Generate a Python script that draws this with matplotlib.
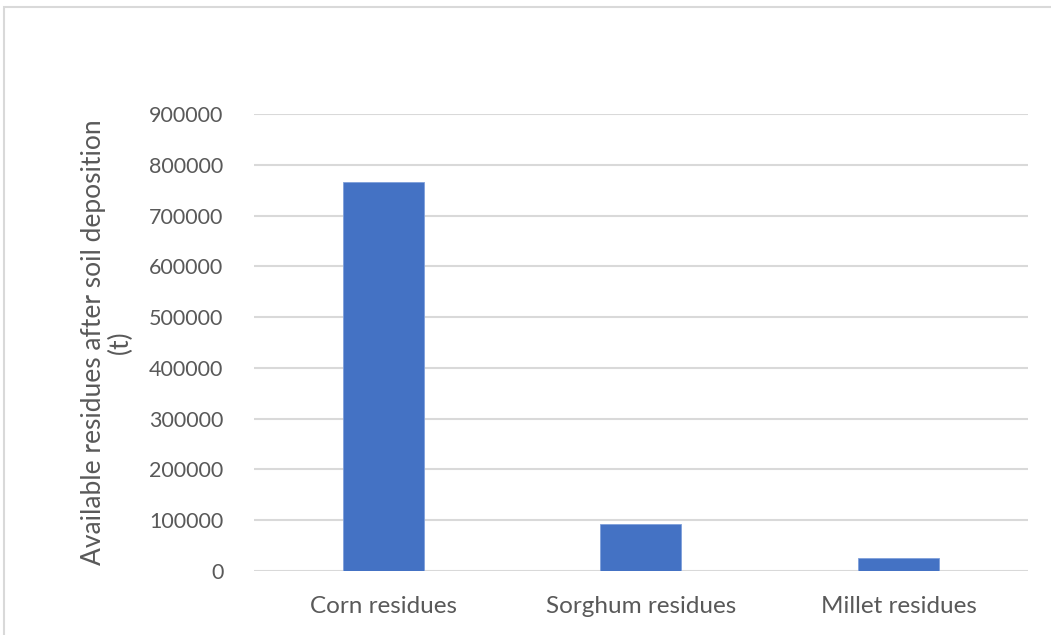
import matplotlib.pyplot as plt
from matplotlib.patches import Rectangle

plt.rcParams['font.family'] = ['Lato', 'DejaVu Sans']

# residue data (t)
categories = ['Corn residues', 'Sorghum residues', 'Millet residues']
residues = [767000, 93500, 26500]
yticks = list(range(0, 900001, 100000))

fig = plt.figure(figsize=(10.51, 6.35), dpi=100)
ax = fig.add_axes([0.2417, 0.1008, 0.7363, 0.7197])

ax.bar(range(len(categories)), residues, width=0.314, color='#4472C4',
       edgecolor='#7FA0DA', linewidth=0.6, zorder=3)

ax.set_xlim(-0.5, 2.5)
ax.set_ylim(0, 900000)
ax.set_yticks(yticks)
ax.set_yticklabels([str(v) for v in yticks])
ax.set_xticks(range(len(categories)))
ax.set_xticklabels(categories, fontsize=17.5)

ax.grid(axis='y', color='#D9D9D9', linewidth=1.5, zorder=0)
for s in ax.spines.values():
    s.set_visible(False)
ax.tick_params(axis='both', length=0, colors='#595959')
ax.tick_params(axis='y', labelsize=15.5, pad=22)
ax.tick_params(axis='x', pad=18)

ax.set_ylabel('Available residues after soil deposition\n(t)', fontsize=19,
              color='#595959', labelpad=12, linespacing=1.05)

# chart area outline
fig.patches.append(Rectangle((4 / 1051, -0.1), 1.2, 1 - 7 / 635 + 0.1,
                             transform=fig.transFigure, fill=False,
                             edgecolor='#D9D9D9', linewidth=1.5))

fig.savefig('out.png', dpi=100, facecolor='white')
